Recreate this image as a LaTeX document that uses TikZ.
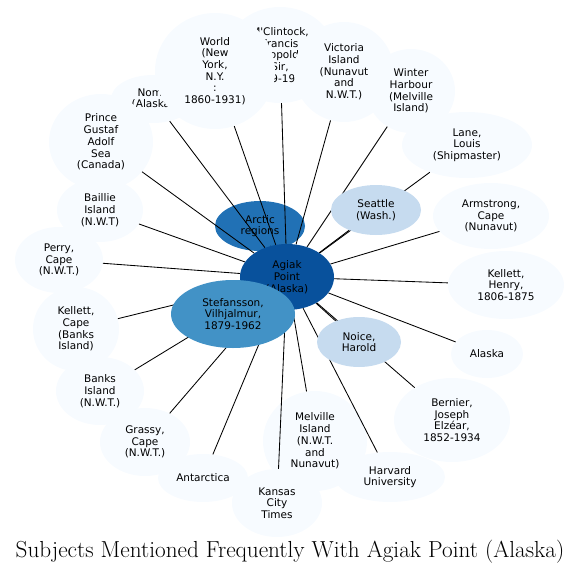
\documentclass[tikz,border=0pt]{standalone}
\usepackage{fontspec}
\newfontfamily\labelfont{DejaVu Sans}
\usetikzlibrary{shapes.geometric}
\definecolor{paleblue}{HTML}{F7FBFF}
\definecolor{lightblue}{HTML}{C6DBEF}
\definecolor{midblue}{HTML}{4292C6}
\definecolor{deepblue}{HTML}{2171B5}
\definecolor{darkblue}{HTML}{08519C}
\pgfdeclarelayer{back}
\pgfdeclarelayer{front}
\pgfsetlayers{back,main,front}
\begin{document}
\begin{tikzpicture}[x=1pt,y=-1pt,
  topic/.style={ellipse,inner sep=0pt,align=center,fill=paleblue,
    font=\labelfont\fontsize{10.5}{11.7}\selectfont},
  link/.style={line width=0.85pt,black}]
\useasboundingbox (0,0) rectangle (581,573);
\begin{pgfonlayer}{back}
\node[topic,minimum width=110,minimum height=96] (mcclintock) at (280,55) {M'Clintock,\\Francis\\Leopold,\\Sir,\\1819-1907};
\node[topic,minimum width=84,minimum height=48] (nome) at (153,99) {Nome\\(Alaska)};
\node[topic,minimum width=86,minimum height=64] (baillie) at (100,210) {Baillie\\Island\\(N.W.T)};
\node[topic,minimum width=120,minimum height=116] (world) at (215,71) {World\\(New\\York,\\N.Y.\\:\\1860-1931)};
\node[topic,minimum width=100,minimum height=100] (victoria) at (344,72) {Victoria\\Island\\(Nunavut\\and\\N.W.T.)};
\node[topic,minimum width=88,minimum height=84] (winter) at (411,91) {Winter\\Harbour\\(Melville\\Island)};
\node[topic,minimum width=130,minimum height=66] (lane) at (467,145) {Lane,\\Louis\\(Shipmaster)};
\node[topic,minimum width=116,minimum height=66] (armstrong) at (491,216) {Armstrong,\\Cape\\(Nunavut)};
\node[topic,minimum width=116,minimum height=68] (henry) at (506,285) {Kellett,\\Henry,\\1806-1875};
\node[topic,minimum width=72,minimum height=48] (alaska) at (487,354) {Alaska};
\node[topic,minimum width=116,minimum height=84] (bernier) at (452,420) {Bernier,\\Joseph\\Elzéar,\\1852-1934};
\node[topic,minimum width=104,minimum height=100] (melville) at (315,441) {Melville\\Island\\(N.W.T.\\and\\Nunavut)};
\node[topic,minimum width=110,minimum height=50] (harvard) at (390,477) {Harvard\\University};
\node[topic,minimum width=90,minimum height=68] (kansas) at (277,503) {Kansas\\City\\Times};
\node[topic,minimum width=90,minimum height=48] (antarctica) at (203,478) {Antarctica};
\node[topic,minimum width=90,minimum height=68] (grassy) at (145,442) {Grassy,\\Cape\\(N.W.T.)};
\node[topic,minimum width=88,minimum height=68] (banks) at (100,391) {Banks\\Island\\(N.W.T.)};
\node[topic,minimum width=86,minimum height=84] (kellettcape) at (76,329) {Kellett,\\Cape\\(Banks\\Island)};
\node[topic,minimum width=88,minimum height=66] (perry) at (59,260) {Perry,\\Cape\\(N.W.T.)};
\node[topic,minimum width=104,minimum height=96] (prince) at (101,142) {Prince\\Gustaf\\Adolf\\Sea\\(Canada)};
\node[topic,fill=deepblue,minimum width=90,minimum height=50] (arctic) at (260,226) {Arctic\\regions};
\end{pgfonlayer}
\begin{pgfonlayer}{front}
\node[topic,fill=darkblue,minimum width=94,minimum height=66] (agiak) at (287,277) {Agiak\\Point\\(Alaska)};
\node[topic,fill=lightblue,minimum width=90,minimum height=50] (seattle) at (376,210) {Seattle\\(Wash.)};
\node[topic,fill=lightblue,minimum width=84,minimum height=50] (noice) at (359,342) {Noice,\\Harold};
\node[topic,fill=midblue,minimum width=124,minimum height=68] (stefansson) at (233,314) {Stefansson,\\Vilhjalmur,\\1879-1962};
\end{pgfonlayer}
\foreach \t in {mcclintock,nome,baillie,world,victoria,winter,lane,armstrong,henry,alaska,bernier,melville,harvard,kansas,antarctica,grassy,banks,kellettcape,perry,prince,arctic,seattle,noice,stefansson}
  \draw[link] (agiak) -- (\t);
\node (title) at (290,552) {\fontsize{23.2}{27}\selectfont Subjects Mentioned Frequently With Agiak Point (Alaska)};
\end{tikzpicture}
\end{document}
